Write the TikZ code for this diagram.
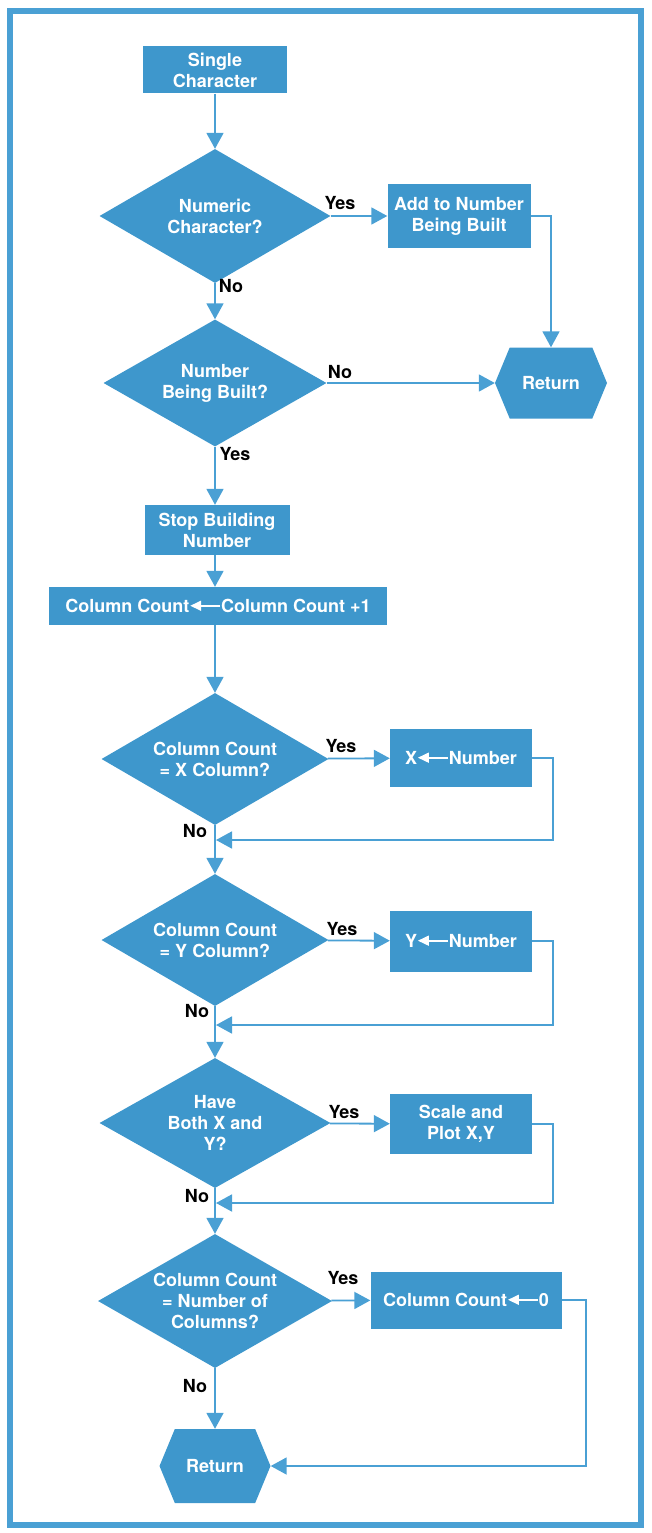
\documentclass[tikz,border=0pt]{standalone}
\usepackage{xcolor}
\usepackage{fontspec}
\setmainfont{TeX Gyre Heros}
\usepackage{tikz}
\usetikzlibrary{shapes.geometric,shapes.symbols,arrows.meta}

\definecolor{hpblue}{RGB}{62,151,204}
\definecolor{hpline}{RGB}{74,160,212}
\newcommand{\getsarrow}{\tikz[baseline=-0.7ex]\draw[white,line width=1.7pt,-{Triangle[width=10pt,length=11pt]}] (30pt,0) -- (0,0);}

\tikzset{
    box/.style={rectangle,fill=hpblue,text=white,font=\fontsize{18}{21}\selectfont\bfseries,align=center,inner sep=0pt},
    decision/.style={diamond,aspect=1.7,fill=hpblue,text=white,font=\fontsize{18}{21}\selectfont\bfseries,align=center,inner sep=0pt},
    retn/.style={signal,signal to=west and east,signal pointer angle=135,fill=hpblue,text=white,font=\fontsize{18}{21}\selectfont\bfseries,inner sep=0pt},
    flow/.style={draw=hpline,line width=1.8pt,-{Triangle[width=17pt,length=16pt]}},
    lbl/.style={font=\fontsize{18}{21}\selectfont\bfseries,text=black,inner sep=0pt}
}

\begin{document}
\begin{tikzpicture}[x=1pt,y=1pt,yscale=-1,xscale=1]
        \useasboundingbox (0,0) rectangle (651,1533);
        \draw [hpline,line width=6.5pt] (10,11) rectangle (641,1525);

        \node [box,minimum width=144,minimum height=47] (sc) at (215,70) {Single\\Character};
        \node [decision,minimum width=231,minimum height=134] (d1) at (215,216) {Numeric\\Character?};
        \node [box,minimum width=143,minimum height=64] (add) at (459,216) {Add to Number\\Being Built};
        \node [decision,minimum width=223,minimum height=127] (d2) at (215,383) {Number\\Being Built?};
        \node [retn,minimum width=112,minimum height=71] (ret1) at (551,383) {Return};
        \node [box,minimum width=145,minimum height=50] (stop) at (217,530) {Stop Building\\Number};
        \node [box,minimum width=338,minimum height=38] (cc) at (218,606) {Column Count\getsarrow Column Count +1};
        \node [decision,minimum width=227,minimum height=132] (d3) at (215,759) {Column Count\\= X Column?};
        \node [box,minimum width=142,minimum height=58] (xn) at (461,758) {X\getsarrow Number};
        \node [decision,minimum width=227,minimum height=132] (d4) at (215,940) {Column Count\\= Y Column?};
        \node [box,minimum width=142,minimum height=61] (yn) at (461,941) {Y\getsarrow Number};
        \node [decision,minimum width=231,minimum height=130] (d5) at (215,1123) {Have\\Both X and\\Y?};
        \node [box,minimum width=142,minimum height=60] (sp) at (461,1124) {Scale and\\Plot X,Y};
        \node [decision,minimum width=234,minimum height=134] (d6) at (215,1301) {Column Count\\= Number of\\Columns?};
        \node [box,minimum width=191,minimum height=57] (cz) at (466,1300) {Column Count\getsarrow 0};
        \node [retn,minimum width=111,minimum height=74] (ret2) at (215,1466) {Return};

        \coordinate (j3) at (216,840);
        \coordinate (j4) at (216,1025);
        \coordinate (j5) at (216,1203);

        \draw [flow] (sc) -- (d1);
        \draw [flow] (d1) -- (add);
        \draw [flow] (add.east) -| (ret1.north);
        \draw [flow] (d1) -- (d2);
        \draw [flow] (d2) -- (ret1);
        \draw [flow] (d2) -- (stop.north -| d2.south);
        \draw [flow] (stop.south -| d2.south) -- (cc.north -| d2.south);
        \draw [flow] (cc.south -| d3.north) -- (d3);
        \draw [flow] (d3) -- (xn);
        \draw [flow] (xn.east) -- ++(21,0) |- (j3);
        \draw [flow] (d3) -- (d4);
        \draw [flow] (d4) -- (yn);
        \draw [flow] (yn.east) -- ++(21,0) |- (j4);
        \draw [flow] (d4) -- (d5);
        \draw [flow] (d5) -- (sp);
        \draw [flow] (sp.east) -- ++(21,0) |- (j5);
        \draw [flow] (d5) -- (d6);
        \draw [flow] (d6) -- (cz);
        \draw [flow] (cz.east) -- ++(24,0) |- (ret2.east);
        \draw [flow] (d6) -- (ret2);

        \node [lbl] (y1) at (340,203) {Yes};
        \node [lbl] (n1) at (231,286) {No};
        \node [lbl] (n2) at (340,372) {No};
        \node [lbl] (y2) at (235,454) {Yes};
        \node [lbl] (y3) at (341,746) {Yes};
        \node [lbl] (n3) at (195,831) {No};
        \node [lbl] (y4) at (342,929) {Yes};
        \node [lbl] (n4) at (197,1011) {No};
        \node [lbl] (y5) at (344,1112) {Yes};
        \node [lbl] (n5) at (197,1196) {No};
        \node [lbl] (y6) at (343,1278) {Yes};
        \node [lbl] (n6) at (195,1386) {No};
    \end{tikzpicture}
\end{document}
